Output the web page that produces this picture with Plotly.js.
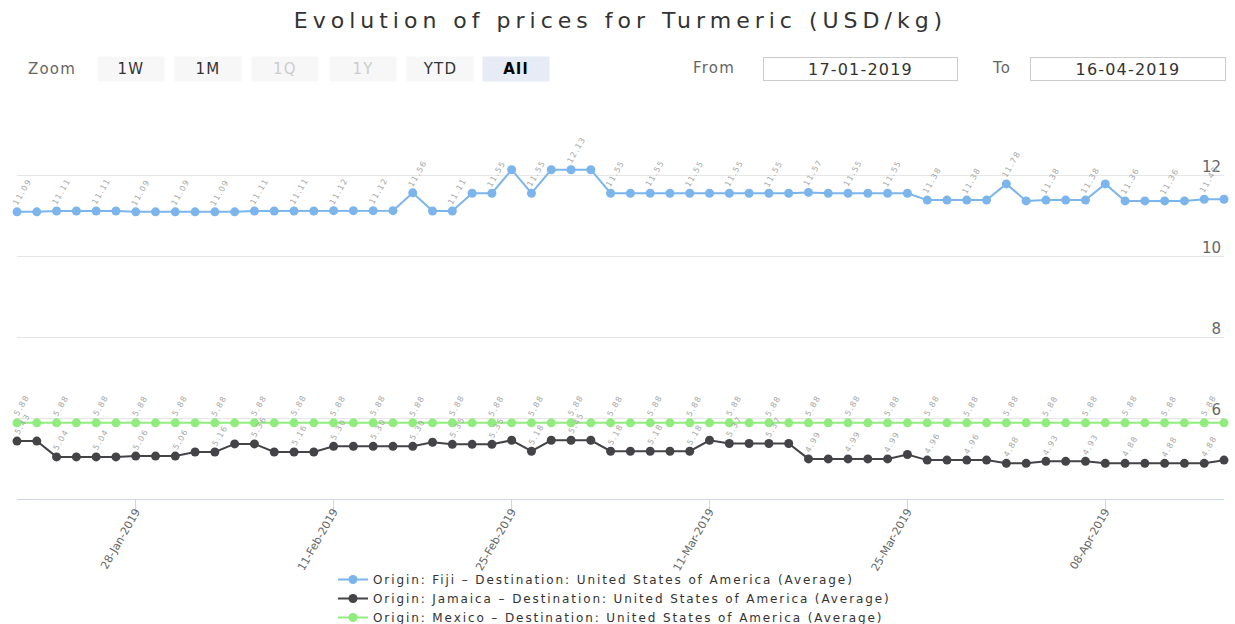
<!DOCTYPE html>
<html>
<head>
<meta charset="utf-8">
<script src="https://cdn.plot.ly/plotly-3.0.1.min.js"></script>
<style>
html,body{margin:0;padding:0;background:#fff;}
#chart{width:1235px;height:624px;}
.gtitle{letter-spacing:5px;}
.legendtext{letter-spacing:1.9px;}
.annotation-text{letter-spacing:1.2px;}
</style>
</head>
<body>
<div id="chart"></div>
<script>
// ---- data ----
var dates = [
 '2019-01-17','2019-01-18','2019-01-22','2019-01-23','2019-01-24','2019-01-25',
 '2019-01-28','2019-01-29','2019-01-30','2019-01-31','2019-02-01',
 '2019-02-04','2019-02-05','2019-02-06','2019-02-07','2019-02-08',
 '2019-02-11','2019-02-12','2019-02-13','2019-02-14','2019-02-15',
 '2019-02-19','2019-02-20','2019-02-21','2019-02-22',
 '2019-02-25','2019-02-26','2019-02-27','2019-02-28','2019-03-01',
 '2019-03-04','2019-03-05','2019-03-06','2019-03-07','2019-03-08',
 '2019-03-11','2019-03-12','2019-03-13','2019-03-14','2019-03-15',
 '2019-03-18','2019-03-19','2019-03-20','2019-03-21','2019-03-22',
 '2019-03-25','2019-03-26','2019-03-27','2019-03-28','2019-03-29',
 '2019-04-01','2019-04-02','2019-04-03','2019-04-04','2019-04-05',
 '2019-04-08','2019-04-09','2019-04-10','2019-04-11','2019-04-12',
 '2019-04-15','2019-04-16'
];
var fiji = [
 11.09,11.09,11.11,11.11,11.11,11.11,
 11.09,11.09,11.09,11.09,11.09,
 11.09,11.11,11.11,11.11,11.11,
 11.12,11.12,11.12,11.12,11.56,
 11.11,11.11,11.55,11.55,
 12.13,11.55,12.13,12.13,12.13,
 11.55,11.55,11.55,11.55,11.55,
 11.55,11.55,11.55,11.55,11.55,
 11.57,11.55,11.55,11.55,11.55,
 11.55,11.38,11.38,11.38,11.38,
 11.78,11.36,11.38,11.38,11.38,
 11.78,11.36,11.36,11.36,11.36,
 11.40,11.40
];
var jamaica = [
 5.43,5.43,5.04,5.04,5.04,5.04,
 5.06,5.06,5.06,5.16,5.16,
 5.36,5.36,5.16,5.16,5.16,
 5.30,5.30,5.30,5.30,5.30,
 5.40,5.35,5.35,5.35,
 5.45,5.18,5.45,5.45,5.45,
 5.18,5.18,5.18,5.18,5.18,
 5.45,5.37,5.37,5.37,5.37,
 4.99,4.99,4.99,4.99,4.99,
 5.10,4.96,4.96,4.96,4.96,
 4.88,4.88,4.93,4.93,4.93,
 4.88,4.88,4.88,4.88,4.88,
 4.88,4.96
];
var mexico = [
 5.88,5.88,5.88,5.88,5.88,5.88,
 5.88,5.88,5.88,5.88,5.88,
 5.88,5.88,5.88,5.88,5.88,
 5.88,5.88,5.88,5.88,5.88,
 5.88,5.88,5.88,5.88,
 5.88,5.88,5.88,5.88,5.88,
 5.88,5.88,5.88,5.88,5.88,
 5.88,5.88,5.88,5.88,5.88,
 5.88,5.88,5.88,5.88,5.88,
 5.88,5.88,5.88,5.88,5.88,
 5.88,5.88,5.88,5.88,5.88,
 5.88,5.88,5.88,5.88,5.88,
 5.88,5.88
];
var seriesNames = [
 'Origin: Fiji \u2013 Destination: United States of America (Average)',
 'Origin: Jamaica \u2013 Destination: United States of America (Average)',
 'Origin: Mexico \u2013 Destination: United States of America (Average)'
];
var seriesColors = ['#7cb5ec','#434348','#90ed7d'];
var xTickVals = ['2019-01-28','2019-02-11','2019-02-25','2019-03-11','2019-03-25','2019-04-08'];
var xTickText = ['28-Jan-2019','11-Feb-2019','25-Feb-2019','11-Mar-2019','25-Mar-2019','08-Apr-2019'];
var yTickVals = [4,6,8,10,12,14];
var yTickText = ['4','6','8','10','12',''];
var zoomButtons = ['1W','1M','1Q','1Y','YTD','All'];
var zoomDisabled = [false,false,true,true,false,false];
var fromDate = '17-01-2019';
var toDate = '16-04-2019';
var chartTitle = 'Evolution of prices for Turmeric (USD/kg)';

// ---- layout geometry ----
var W = 1235, H = 624;
var M = {l:17, r:11, t:94, b:125, autoexpand:false};
var PW = W - M.l - M.r, PH = H - M.t - M.b;
function px(x){ return (x - M.l) / PW; }
function py(y){ return (H - M.b - y) / PH; }

var FONT = '"DejaVu Sans", Verdana, sans-serif';
var allSeries = [fiji, jamaica, mexico];

var traces = allSeries.map(function(vals, k){
  return {
    type:'scatter', mode:'lines+markers', x:dates, y:vals, name:seriesNames[k],
    line:{color:seriesColors[k], width:2},
    marker:{color:seriesColors[k], size:9},
    cliponaxis:false, hoverinfo:'x+y'
  };
});

var annotations = [];
// data labels on every other point
allSeries.forEach(function(vals){
  vals.forEach(function(v, i){
    if (i % 2 !== 0) return;
    annotations.push({
      x:dates[i], y:v, xref:'x', yref:'y', text:v.toFixed(2), showarrow:false,
      textangle:-60, xanchor:'center', yanchor:'bottom', xshift:5, yshift:2,
      font:{family:FONT, size:8, color:'#a8a8a8'}
    });
  });
});

// range selector look-alike
annotations.push({xref:'paper', yref:'paper', x:px(52), y:py(69), text:'Zoom', showarrow:false,
  xanchor:'center', yanchor:'middle', font:{family:FONT, size:15, color:'#666'}});
var btnCenters = [131,208,285,363,440,516];
zoomButtons.forEach(function(b, i){
  var sel = (b === 'All');
  annotations.push({xref:'paper', yref:'paper', x:px(btnCenters[i]), y:py(69), text: (sel ? '<b>'+b+'</b>' : b),
    showarrow:false, xanchor:'center', yanchor:'middle', width:66, height:24, borderpad:0,
    bgcolor: sel ? '#e6ebf5' : '#f7f7f7',
    font:{family:FONT, size:15, color: zoomDisabled[i] ? '#cccccc' : (sel ? '#000' : '#333')}});
});
annotations.push({xref:'paper', yref:'paper', x:px(714), y:py(68), text:'From', showarrow:false,
  xanchor:'center', yanchor:'middle', font:{family:FONT, size:15, color:'#666'}});
annotations.push({xref:'paper', yref:'paper', x:px(860), y:py(69), text:fromDate, showarrow:false,
  xanchor:'center', yanchor:'middle', width:193, height:22, borderpad:0, bordercolor:'#cccccc', borderwidth:1,
  font:{family:FONT, size:16, color:'#333'}});
annotations.push({xref:'paper', yref:'paper', x:px(1001), y:py(68), text:'To', showarrow:false,
  xanchor:'center', yanchor:'middle', font:{family:FONT, size:15, color:'#666'}});
annotations.push({xref:'paper', yref:'paper', x:px(1128), y:py(69), text:toDate, showarrow:false,
  xanchor:'center', yanchor:'middle', width:194, height:22, borderpad:0, bordercolor:'#cccccc', borderwidth:1,
  font:{family:FONT, size:16, color:'#333'}});

var layout = {
  width:W, height:H, margin:M, paper_bgcolor:'#fff', plot_bgcolor:'#fff',
  title:{text:chartTitle, x:0.5, xref:'paper', xanchor:'center', y:1-20/H, yref:'container', yanchor:'middle',
    font:{family:FONT, size:22, color:'#333'}},
  showlegend:true,
  legend:{orientation:'v', x:px(333), y:py(565), xanchor:'left', yanchor:'top',
    font:{family:FONT, size:12, color:'#333'}, bgcolor:'rgba(0,0,0,0)', tracegroupgap:0},
  xaxis:{type:'date', range:['2019-01-17','2019-04-16'], automargin:false,
    rangebreaks:[{bounds:['sat','mon']},{values:['2019-01-21','2019-02-18']}],
    tickvals:xTickVals, ticktext:xTickText, tickangle:-60, ticklabelstandoff:-9,
    ticks:'outside', ticklen:10, tickcolor:'#ccd6eb', tickwidth:1,
    showline:true, linecolor:'#ccd6eb', linewidth:1, showgrid:false, zeroline:false,
    tickfont:{family:FONT, size:11, color:'#666'}, fixedrange:true},
  yaxis:{range:[4,14], tickvals:yTickVals, ticktext:yTickText, side:'right', ticklabelposition:'inside',
    automargin:false, ticklabelshift:-8, showgrid:true, gridcolor:'#e6e6e6', gridwidth:1, zeroline:false, showline:false,
    ticks:'', tickfont:{family:FONT, size:15, color:'#666'}, fixedrange:true},
  annotations:annotations
};

Plotly.newPlot('chart', traces, layout, {displayModeBar:false});
</script>
</body>
</html>
